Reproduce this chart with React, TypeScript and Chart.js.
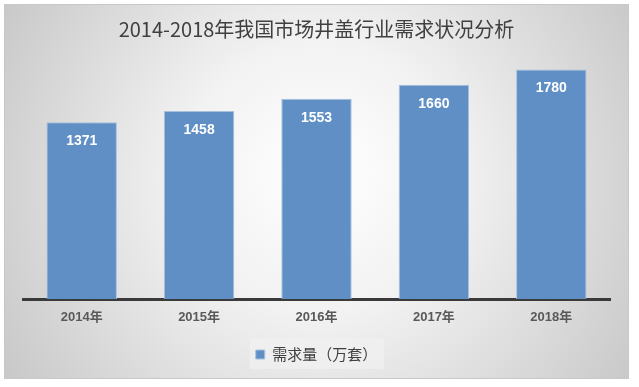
import React, { useEffect, useRef } from "react";
import { Chart, registerables } from "chart.js";

Chart.register(...registerables);

const categories = ["2014年", "2015年", "2016年", "2017年", "2018年"];
const demand = [1371, 1458, 1553, 1660, 1780];
const seriesName = "需求量（万套）";
const titleText = "2014-2018年我国市场井盖行业需求状况分析";

const CJK = "'Noto Sans CJK SC', sans-serif";
const LAT = "'Liberation Sans', 'Noto Sans CJK SC', sans-serif";

const backgroundPlugin = {
  id: "panelBg",
  beforeDraw(chart: any) {
    const ctx = chart.ctx;
    const w = chart.width;
    const h = chart.height;
    ctx.save();
    ctx.fillStyle = "#ffffff";
    ctx.fillRect(0, 0, w, h);
    const px = 4, py = 4, pw = 625, ph = 375;
    const g = ctx.createRadialGradient(320, 170, 0, 320, 190, 390);
    g.addColorStop(0, "#ffffff");
    g.addColorStop(0.35, "#f2f2f2");
    g.addColorStop(1, "#c4c4c4");
    ctx.fillStyle = g;
    ctx.fillRect(px, py, pw, ph);
    ctx.strokeStyle = "#c8c8c8";
    ctx.lineWidth = 1;
    ctx.strokeRect(px + 0.5, py + 0.5, pw - 1, ph - 1);
    const lg = chart.legend;
    if (lg && lg.legendHitBoxes && lg.legendHitBoxes.length) {
      const hb = lg.legendHitBoxes[0];
      ctx.fillStyle = "rgba(240,240,240,0.75)";
      ctx.fillRect(hb.left - 6, hb.top - 8, hb.width + 13, hb.height + 15);
    }
    ctx.restore();
  },
};

const labelPlugin = {
  id: "barLabels",
  afterDatasetsDraw(chart: any) {
    const ctx = chart.ctx;
    const meta = chart.getDatasetMeta(0);
    ctx.save();
    ctx.fillStyle = "#ffffff";
    ctx.font = "bold 14px " + LAT;
    ctx.textAlign = "center";
    ctx.textBaseline = "middle";
    meta.data.forEach((bar: any, i: number) => {
      ctx.fillText(String(demand[i]), bar.x, bar.y + 19);
    });
    ctx.restore();
  },
};

export default function App() {
  const ref = useRef<HTMLCanvasElement | null>(null);
  useEffect(() => {
    if (!ref.current) return;
    const chart = new Chart(ref.current, {
      type: "bar",
      data: {
        labels: categories,
        datasets: [
          {
            label: seriesName,
            data: demand,
            backgroundColor: "#5f8fc5",
            borderColor: "#a9c0dd",
            borderWidth: 1,
            barPercentage: 0.6,
            categoryPercentage: 1.0,
          },
        ],
      },
      options: {
        responsive: false,
        animation: false,
        layout: { padding: { left: 23, right: 29, top: 8, bottom: 15 } },
        plugins: {
          title: {
            display: true,
            text: titleText,
            color: "#404040",
            font: { family: CJK, size: 20, weight: "normal", lineHeight: 1 },
            padding: { top: 11.5, bottom: 1.5 },
          },
          legend: {
            display: true,
            position: "bottom",
            labels: {
              boxWidth: 9,
              boxHeight: 9,
              padding: 8,
              color: "#404040",
              font: { family: CJK, size: 15 },
            },
          },
          tooltip: { enabled: false },
        },
        scales: {
          x: {
            grid: { display: false, drawTicks: false },
            border: { display: true, color: "#3a3a3a", width: 3 },
            ticks: {
              color: "#595959",
              padding: 11,
              font: { family: LAT, size: 13, weight: "bold" },
            },
            afterFit: (scale: any) => {
              scale.height = 40;
            },
          },
          y: {
            display: false,
            min: 0,
            max: 2000,
          },
        },
      },
      plugins: [backgroundPlugin, labelPlugin],
    });
    return () => chart.destroy();
  }, []);
  return (
    <div style={{ position: "fixed", left: 0, top: 0, width: 639, height: 387, background: "#fff" }}>
      <canvas ref={ref} width={639} height={387} style={{ display: "block" }} />
    </div>
  );
}
